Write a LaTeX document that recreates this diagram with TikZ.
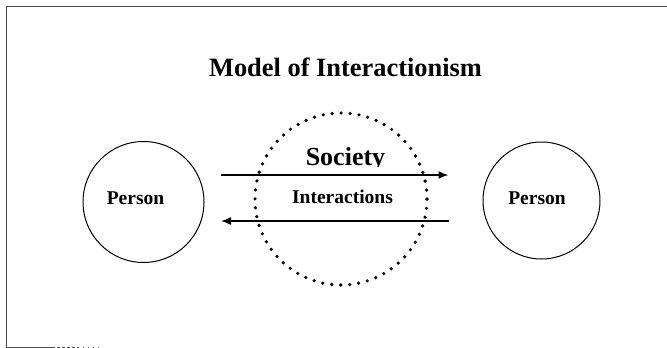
\documentclass[tikz,border=0pt]{standalone}
\usepackage{fontspec}
\setmainfont{Liberation Serif}
\usetikzlibrary{arrows.meta}
\begin{document}
\begin{tikzpicture}[x=1pt,y=-1pt,
  frame/.style={draw=black!70,line width=1pt},
  person/.style={circle,draw,line width=1pt,minimum size=#1,inner sep=0pt},
  societycirc/.style={circle,draw,line width=3.6pt,line cap=round,dash pattern=on 0pt off 9pt,minimum size=172pt,inner sep=0pt},
  lbl/.style={anchor=base,font=\bfseries\fontsize{19.5}{22}\selectfont,inner sep=0pt},
  flow/.style={line width=1.5pt,-{Latex[length=10pt,width=8pt]}}
]
\useasboundingbox (0,0) rectangle (667,348);
% frame
\draw[frame] (6,347) -- (6,6) -- (667,6);
\draw[frame] (6,347) -- (52,347);
\draw[frame,dash pattern=on 3pt off 2pt] (52,347) -- (78,347);
\draw[frame,dash pattern=on 1pt off 4pt] (78,347) -- (100,347);
% title
\node[anchor=base,font=\bfseries\fontsize{26.4}{30}\selectfont,inner sep=0pt] (title) at (345.5,76) {Model of Interactionism};
% circles
\node[person=121pt] (pl) at (143.5,202) {};
\node[person=117pt] (pr) at (541.5,200.5) {};
\node[societycirc] (soc) at (341,199) {};
% texts
\node[lbl] (tl) at (135.5,204) {Person};
\node[lbl] (tr) at (537,204) {Person};
\node[lbl] (ti) at (342.5,203) {Interactions};
\begin{scope}
\clip (250,130) rectangle (440,166.5);
\node[anchor=base,font=\bfseries\fontsize{26}{30}\selectfont,inner sep=0pt] (ts) at (345.5,165) {Society};
\end{scope}
% arrows
\coordinate (a1s) at (221,175);
\coordinate (a1e) at (448.5,175);
\coordinate (a2s) at (448.5,221);
\coordinate (a2e) at (221,221);
\draw[flow] (a1s) -- (a1e);
\draw[flow] (a2s) -- (a2e);
\end{tikzpicture}
\end{document}
